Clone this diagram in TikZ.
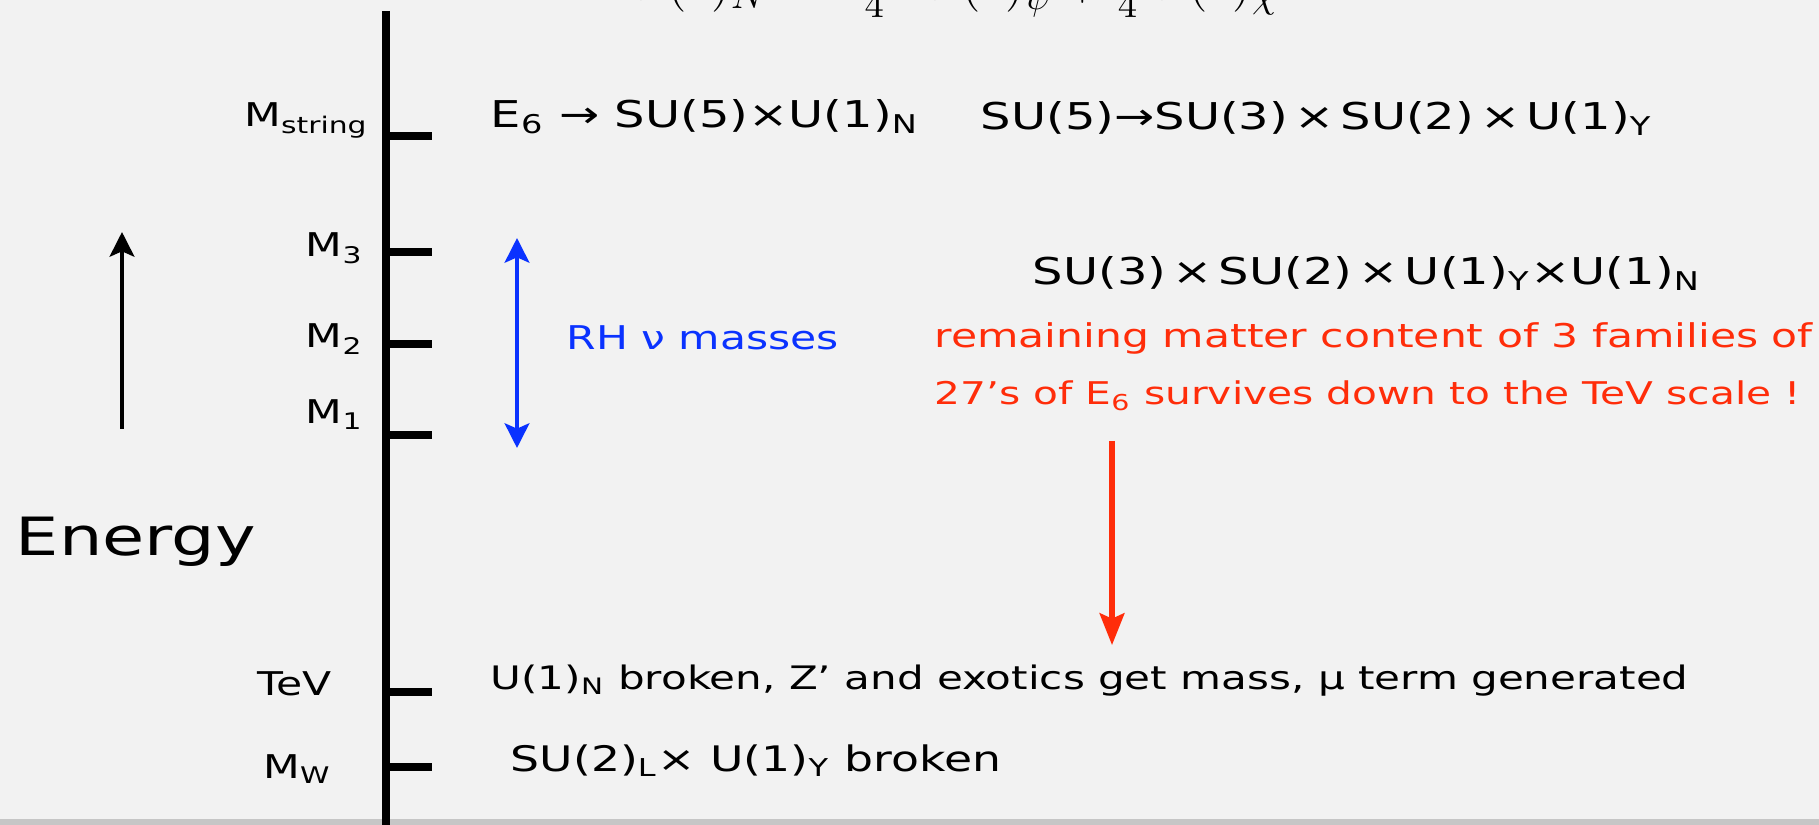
\documentclass[tikz,border=0pt]{standalone}
\usepackage{amsmath}
\usepackage{fontspec}
\setmainfont{DejaVu Sans}[FakeStretch=1.3]
\usetikzlibrary{arrows.meta}
\definecolor{slidebg}{HTML}{F2F2F2}
\definecolor{hotred}{HTML}{FF2D0A}
\definecolor{nublue}{HTML}{0A32FF}
\newcommand{\lo}[1]{\textsubscript{#1}}

\begin{document}
\begin{tikzpicture}[x=0.01cm, y=-0.01cm, every node/.style={inner sep=0pt},
	>={Stealth[length=7pt,width=7pt,inset=1.5pt]},
	eqn/.style={font=\fontsize{10.5}{12}\selectfont, anchor=base west},
	scalelbl/.style={font=\fontsize{9.3}{11}\selectfont, anchor=base east},
	note/.style={font=\fontsize{9.3}{11}\selectfont, anchor=base west}]
	\fill[slidebg] (0,0) rectangle (1819,825);
	\fill[gray!45] (0,819) rectangle (1819,825);
	\useasboundingbox (0,0) rectangle (1819,825);
	\begin{scope}
		\clip (0,0) rectangle (1819,24);
		\node[anchor=base west, font=\fontsize{15}{17}\selectfont] (mixing) at (628,0) {$U(1)_N=\tfrac{\sqrt{15}}{4}\,U(1)_\psi+\tfrac{1}{4}\,U(1)_\chi$};
	\end{scope}
	\coordinate (axtop) at (386,11);
	\coordinate (axbot) at (386,825);
	\draw[line width=2.3pt] (axtop) -- (axbot);
	\foreach \y/\ly/\r/\t [count=\i] in {136/127/369/M\lo{string}, 252/257/364/M\lo{3}, 344/348/364/M\lo{2}, 435/424/364/M\lo{1}, 692/695/332/TeV, 767/778/332/M\lo{W}} {
		\coordinate (tick\i) at (386,\y);
		\coordinate (tend\i) at (432,\y);
		\draw[line width=2pt] (tick\i) -- (tend\i);
		\node[scalelbl] (scale\i) at (\r,\ly) {\t};
	}
	\node[eqn] (esix) at (490,128) {E\lo{6} → SU(5)×U(1)\lo{N}};
	\node[eqn] (sufive) at (980,130) {SU(5)→SU(3)\,×\,SU(2)\,×\,U(1)\lo{Y}};
	\node[eqn] (smn) at (1032,285) {SU(3)\,×\,SU(2)\,×\,U(1)\lo{Y}×U(1)\lo{N}};
	\node[note, nublue] (rhnu) at (566,350) {RH ν masses};
	\node[note, hotred] (remain) at (934,348) {remaining matter content of 3 families of};
	\node[note, hotred, font=\fontsize{8.9}{11}\selectfont] (survive) at (934,405) {27’s of E\lo{6} survives down to the TeV scale !};
	\node[note, font=\fontsize{9.2}{11}\selectfont] (tevtxt) at (490,689) {U(1)\lo{N} broken, Z’ and exotics get mass, μ term generated};
	\node[eqn, font=\fontsize{10}{12}\selectfont] (mwtxt) at (510,771) {SU(2)\lo{L}× U(1)\lo{Y} broken};
	\node[anchor=base west, font=\fontsize{15}{18}\selectfont] (energy) at (15,555) {Energy};
	\coordinate (up0) at (122,429);
	\coordinate (up1) at (122,232);
	\draw[->, line width=1.2pt] (up0) -- (up1);
	\coordinate (nu0) at (517,448);
	\coordinate (nu1) at (517,238);
	\draw[<->, nublue, line width=1.2pt] (nu0) -- (nu1);
	\coordinate (drop0) at (1112,441);
	\coordinate (drop1) at (1112,645);
	\draw[->, hotred, line width=1.5pt, >={Stealth[length=9pt,width=7pt,inset=1.5pt]}] (drop0) -- (drop1);
\end{tikzpicture}
\end{document}
